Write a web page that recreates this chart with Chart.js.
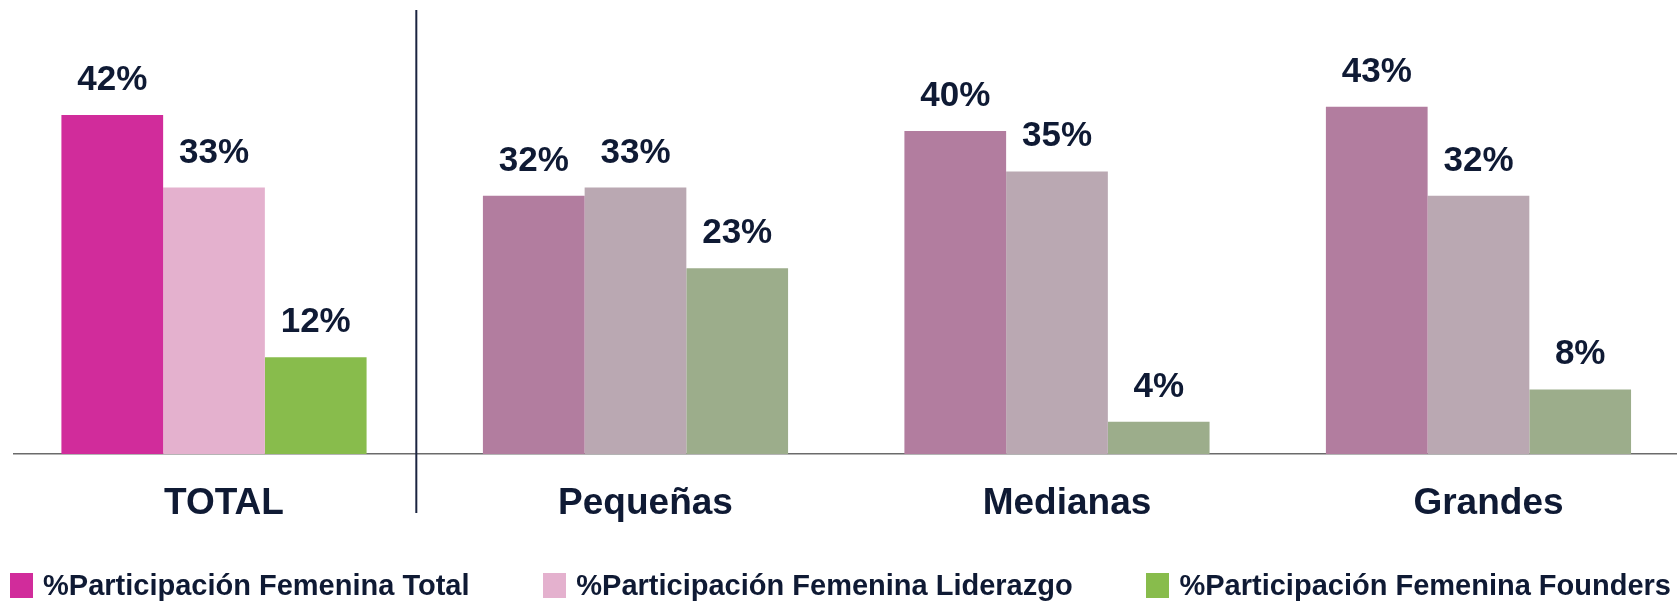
<!DOCTYPE html>
<html>
<head>
<meta charset="utf-8">
<script src="https://cdn.jsdelivr.net/npm/chart.js@4.4.1/dist/chart.umd.min.js"></script>
<style>
    html, body { margin: 0; padding: 0; background: #fff; overflow: hidden; }
    #contenedor { position: absolute; left: 0; top: 0; width: 1677px; height: 601px; }
    #leyenda {
        position: absolute; left: 0; top: 570px; width: 1677px; height: 30px;
        box-sizing: border-box; padding: 0 6px 0 10px;
        display: flex; justify-content: space-between; align-items: center;
        font: bold 29px "Liberation Sans", Arial, sans-serif; line-height: 30px; color: #0f1a34;
    }
    #leyenda .item { display: flex; align-items: center; white-space: nowrap; }
    #leyenda .caja { width: 23px; height: 25px; margin-right: 10px; }
</style>
</head>
<body>
<div id="contenedor"><canvas id="grafico"></canvas></div>
<div id="leyenda"></div>
<script>
// categorias y series
const categorias = ['TOTAL', 'Pequeñas', 'Medianas', 'Grandes'];
const series = [
    '%Participación Femenina Total',
    '%Participación Femenina Liderazgo',
    '%Participación Femenina Founders'
];
const valoresTotal = [42, 32, 40, 43];
const valoresLiderazgo = [33, 33, 35, 32];
const valoresFounders = [12, 23, 4, 8];

// el grupo TOTAL va resaltado, el resto en tonos apagados
const coloresFuertes = ['#d12c9b', '#e4b1ce', '#88bc4c'];
const coloresSuaves = ['#b27d9f', '#baa8b2', '#9cad8b'];
const colorTexto = '#0f1a34';
const fuente = '"Liberation Sans", Arial, sans-serif';

const valores = [valoresTotal, valoresLiderazgo, valoresFounders];

const datasets = series.map((nombre, s) => ({
    label: nombre,
    data: valores[s].map((v, i) => ({ x: i, y: v })),
    backgroundColor: categorias.map((c, i) => i === 0 ? coloresFuertes[s] : coloresSuaves[s]),
    borderWidth: 0,
    categoryPercentage: 0.724,
    barPercentage: 1
}));

// etiquetas de porcentaje encima de cada barra
const etiquetas = {
    id: 'etiquetas',
    afterDatasetsDraw(chart) {
        const ctx = chart.ctx;
        ctx.save();
        ctx.font = 'bold 35px ' + fuente;
        ctx.fillStyle = colorTexto;
        ctx.textAlign = 'center';
        ctx.textBaseline = 'alphabetic';
        chart.data.datasets.forEach((ds, d) => {
            chart.getDatasetMeta(d).data.forEach((barra, i) => {
                ctx.fillText(ds.data[i].y + '%', barra.x, barra.y - 25);
            });
        });
        ctx.restore();
    }
};

// linea vertical que separa TOTAL del resto
const separador = {
    id: 'separador',
    afterDraw(chart) {
        const ctx = chart.ctx;
        const x = chart.scales.x.getPixelForValue(0.48);
        ctx.save();
        ctx.strokeStyle = '#1b2440';
        ctx.lineWidth = 2;
        ctx.beginPath();
        ctx.moveTo(x, chart.chartArea.top);
        ctx.lineTo(x, chart.chartArea.bottom + 59);
        ctx.stroke();
        ctx.restore();
    }
};

const ctx = document.getElementById('grafico').getContext('2d');
new Chart(ctx, {
    type: 'bar',
    data: { datasets: datasets },
    options: {
        responsive: true,
        maintainAspectRatio: false,
        animation: false,
        layout: { padding: { left: 14, right: 0, top: 10, bottom: 46.6 } },
        scales: {
            x: {
                type: 'linear',
                min: -0.4745,
                max: 3.471,
                offset: false,
                grid: { display: false, drawTicks: false, offset: false },
                border: { display: true, color: '#6b6b6b', width: 1.5 },
                afterBuildTicks: function(scale) {
                    scale.ticks = categorias.map((c, i) => ({ value: i }));
                },
                ticks: {
                    autoSkip: false,
                    maxRotation: 0,
                    padding: 28,
                    labelOffset: 10,
                    color: colorTexto,
                    font: { family: fuente, size: 37, weight: 'bold' },
                    callback: function(valor) {
                        return categorias[valor];
                    }
                }
            },
            y: {
                display: false,
                min: 0,
                max: 55
            }
        },
        plugins: {
            legend: { display: false },
            tooltip: { enabled: false }
        }
    },
    plugins: [etiquetas, separador]
});

// leyenda en html con los colores del grupo TOTAL
const leyenda = document.getElementById('leyenda');
series.forEach((nombre, s) => {
    const item = document.createElement('div');
    item.className = 'item';
    const caja = document.createElement('span');
    caja.className = 'caja';
    caja.style.background = coloresFuertes[s];
    const texto = document.createElement('span');
    texto.textContent = nombre;
    item.appendChild(caja);
    item.appendChild(texto);
    leyenda.appendChild(item);
});
</script>
</body>
</html>
